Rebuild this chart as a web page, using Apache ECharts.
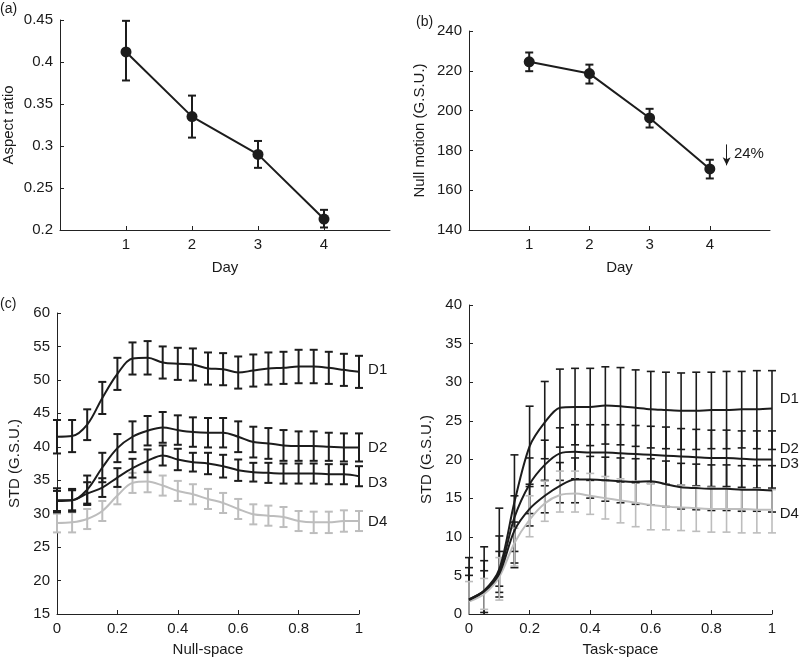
<!DOCTYPE html>
<html><head><meta charset="utf-8">
<script src="https://cdn.jsdelivr.net/npm/echarts@6/dist/echarts.min.js"></script>
<style>html,body{margin:0;padding:0;background:#fff}#c{width:800px;height:658px}</style>
</head><body><div id="c"></div>
<script>
// ---------- Panel (a) ----------
var daysA = [1, 2, 3, 4];
var aspectMean = [0.412, 0.335, 0.290, 0.213];
var aspectHi = [0.449, 0.360, 0.306, 0.224];
var aspectLo = [0.378, 0.310, 0.274, 0.203];
// ---------- Panel (b) ----------
var nullMean = [224.5, 218.6, 196.3, 170.7];
var nullHi = [229.2, 223.1, 200.9, 175.3];
var nullLo = [219.8, 213.6, 191.5, 165.9];
var arrowB = [[4.28, 183.0], [4.28, 172.5]];
var arrowText = '24%';
var arrowTextPos = [4.4, 178.3];
// ---------- Panel (c) Null-space ----------
var xs = [0, 0.05, 0.1, 0.15, 0.2, 0.25, 0.3, 0.35, 0.4, 0.45, 0.5, 0.55, 0.6, 0.65, 0.7, 0.75, 0.8, 0.85, 0.9, 0.95, 1];
var cD1 = [41.5, 41.6, 43.3, 47.3, 50.9, 53.2, 53.3, 52.6, 52.4, 52.3, 51.7, 51.6, 51.1, 51.4, 51.7, 51.8, 52.0, 52.0, 51.8, 51.5, 51.2];
var cD1err = [2.5, 2.4, 2.3, 2.4, 2.4, 2.4, 2.5, 2.4, 2.4, 2.4, 2.4, 2.4, 2.4, 2.4, 2.4, 2.4, 2.5, 2.5, 2.4, 2.4, 2.4];
var cD2 = [32.0, 32.0, 33.6, 36.9, 39.8, 41.5, 42.4, 42.9, 42.5, 42.2, 42.1, 42.1, 41.5, 40.7, 40.5, 40.2, 40.1, 40.1, 40.0, 39.9, 39.9];
var cD2err = [1.8, 1.7, 2.1, 2.2, 2.1, 2.3, 2.2, 2.3, 2.2, 2.2, 2.2, 2.2, 2.3, 2.3, 2.3, 2.3, 2.2, 2.2, 2.1, 2.1, 2.1];
var cD3 = [31.9, 32.0, 33.0, 33.9, 35.4, 36.8, 37.9, 38.7, 38.1, 37.7, 37.5, 37.1, 36.5, 36.2, 36.1, 36.0, 36.0, 36.0, 35.9, 35.9, 35.6];
var cD3err = [1.5, 1.5, 1.7, 1.4, 1.4, 1.4, 1.7, 1.5, 1.6, 1.4, 1.6, 1.7, 1.6, 1.4, 1.5, 1.5, 1.5, 1.5, 1.5, 1.5, 1.5];
var cD4 = [28.6, 28.7, 29.2, 30.4, 32.7, 34.6, 34.8, 34.2, 33.4, 32.9, 32.2, 31.6, 30.7, 29.9, 29.7, 29.5, 28.9, 28.7, 28.7, 28.9, 28.9];
var cD4err = [1.4, 1.5, 1.5, 1.5, 1.3, 1.5, 1.6, 1.5, 1.5, 1.5, 1.5, 1.5, 1.5, 1.5, 1.5, 1.5, 1.5, 1.6, 1.6, 1.6, 1.5];
var cLabels = ['D1', 'D2', 'D3', 'D4'];
var cLabelPos = [[1.03, 51.5], [1.03, 39.9], [1.03, 34.6], [1.03, 28.8]];
// ---------- Panel (d) Task-space ----------
var dD1 = [1.9, 3.0, 5.8, 14.5, 21.7, 24.8, 26.7, 26.8, 26.8, 27.0, 26.9, 26.7, 26.5, 26.4, 26.3, 26.3, 26.4, 26.4, 26.5, 26.5, 26.6];
var dD1hi = [7.3, 8.7, 13.7, 20.6, 26.9, 30.1, 31.7, 31.8, 31.8, 32.0, 31.9, 31.6, 31.4, 31.3, 31.2, 31.3, 31.3, 31.4, 31.4, 31.5, 31.5];
var dD1lo = [-3.5, -2.7, 3.6, 8.1, 16.5, 20.1, 21.6, 21.9, 21.8, 22.0, 21.9, 21.7, 21.5, 21.4, 21.3, 21.3, 21.4, 21.4, 21.5, 21.4, 21.3];
var dD2 = [1.9, 3.0, 5.5, 12.5, 16.8, 19.3, 20.8, 21.0, 20.9, 20.9, 20.8, 20.7, 20.6, 20.5, 20.4, 20.3, 20.2, 20.2, 20.1, 20.0, 20.0];
var dD2hi = [6.0, 6.9, 10.1, 15.3, 20.2, 22.5, 24.1, 24.5, 24.5, 24.5, 24.5, 24.4, 24.3, 24.2, 24.0, 23.9, 23.8, 23.8, 23.7, 23.7, 23.7];
var dD2lo = [-2.2, -0.9, 2.8, 6.6, 13.0, 16.6, 17.3, 17.5, 17.3, 17.3, 17.1, 17.0, 16.9, 16.8, 16.7, 16.6, 16.5, 16.5, 16.4, 16.3, 16.3];
var dD3 = [1.8, 2.9, 5.2, 10.8, 13.6, 15.3, 16.6, 17.4, 17.4, 17.3, 17.2, 17.1, 17.2, 16.8, 16.4, 16.3, 16.2, 16.2, 16.1, 16.1, 16.0];
var dD3hi = [5.0, 5.6, 8.1, 11.9, 16.8, 17.3, 19.6, 20.2, 20.4, 20.3, 20.2, 20.1, 20.1, 19.8, 19.5, 19.4, 19.3, 19.3, 19.2, 19.2, 19.2];
var dD3lo = [-1.2, 0.2, 2.2, 6.0, 11.4, 13.1, 14.4, 14.4, 15.0, 14.6, 14.4, 14.2, 14.1, 13.9, 13.6, 13.5, 13.4, 13.4, 13.3, 13.3, 13.2];
var dD4 = [1.6, 2.6, 4.8, 9.2, 12.2, 14.3, 15.4, 15.6, 15.3, 15.0, 14.7, 14.4, 14.1, 13.9, 13.8, 13.7, 13.6, 13.6, 13.6, 13.5, 13.5];
var dD4hi = [4.2, 4.6, 7.3, 11.1, 15.3, 17.2, 18.5, 18.5, 18.2, 17.8, 17.5, 17.2, 16.9, 16.8, 16.7, 16.5, 16.4, 16.3, 16.2, 16.2, 16.1];
var dD4lo = [-1.0, 0.6, 1.8, 6.2, 10.0, 12.0, 13.2, 13.2, 12.9, 12.3, 11.8, 11.3, 10.9, 10.9, 10.8, 10.7, 10.6, 10.6, 10.5, 10.5, 10.5];
var dLabels = ['D1', 'D2', 'D3', 'D4'];
var dLabelPos = [[1.025, 27.8], [1.025, 21.35], [1.025, 19.4], [1.025, 12.9]];

var FONT = '"Liberation Sans", Arial, Helvetica, sans-serif';
var TXT = '#1a1a1a';
var BLACK = '#1c1c1c';
var GRAY = '#bdbdbd';
var FS = 15;

function zip(x, y) { return x.map(function (v, i) { return [v, y[i]]; }); }
function errData(x, lo, hi) { return x.map(function (v, i) { return [v, lo[i], hi[i]]; }); }
function symErr(x, m, e) { return x.map(function (v, i) { return [v, m[i] - e[i], m[i] + e[i]]; }); }

function errRender(capW, color, lw) {
  return function (params, api) {
    var x = api.value(0), lo = api.value(1), hi = api.value(2);
    var p1 = api.coord([x, hi]), p2 = api.coord([x, lo]);
    var cs = params.coordSys;
    var top = cs.y, bot = cs.y + cs.height;
    function st() { return { stroke: color, lineWidth: lw, fill: null }; }
    var y1 = Math.max(top, Math.min(bot, p1[1]));
    var y2 = Math.max(top, Math.min(bot, p2[1]));
    var ch = [{ type: 'line', shape: { x1: p1[0], y1: y1, x2: p2[0], y2: y2 }, style: st() }];
    if (p1[1] >= top && p1[1] <= bot) ch.push({ type: 'line', shape: { x1: p1[0] - capW, y1: p1[1], x2: p1[0] + capW, y2: p1[1] }, style: st() });
    if (p2[1] >= top && p2[1] <= bot) ch.push({ type: 'line', shape: { x1: p2[0] - capW, y1: p2[1], x2: p2[0] + capW, y2: p2[1] }, style: st() });
    return { type: 'group', children: ch };
  };
}

function errSeries(idx, data, color, capW, lw) {
  return {
    type: 'custom', xAxisIndex: idx, yAxisIndex: idx, data: data, clip: false,
    renderItem: errRender(capW, color, lw), encode: { x: 0, y: [1, 2] }, silent: true, z: 3
  };
}
function lineSeries(idx, data, color, smooth, extra) {
  var s = {
    type: 'line', xAxisIndex: idx, yAxisIndex: idx, data: data, smooth: smooth,
    showSymbol: false, symbol: 'none', lineStyle: { color: color, width: 2 }, silent: true, z: 4
  };
  if (extra) for (var k in extra) s[k] = extra[k];
  return s;
}
function labelSeries(idx, pos, names) {
  return {
    type: 'scatter', xAxisIndex: idx, yAxisIndex: idx, symbolSize: 0.1, silent: true, z: 5, clip: false,
    itemStyle: { color: 'rgba(0,0,0,0)', opacity: 1 },
    data: pos.map(function (p, i) { return { value: p, label: { show: true, formatter: names[i] } }; }),
    label: { show: true, position: 'right', distance: 0, color: TXT, fontSize: FS, fontFamily: FONT }
  };
}

var axisCommon = {
  axisLine: { show: true, onZero: false, lineStyle: { color: '#222', width: 1 } },
  axisTick: { show: true, inside: true, length: 4, lineStyle: { color: '#222' } },
  splitLine: { show: false },
  axisLabel: { color: TXT, fontSize: FS, fontFamily: FONT, margin: 7 },
  nameTextStyle: { color: TXT, fontSize: FS, fontFamily: FONT },
  nameLocation: 'middle'
};
function ax(o) {
  var r = JSON.parse(JSON.stringify(axisCommon));
  for (var k in o) {
    if (typeof o[k] === 'object' && !Array.isArray(o[k]) && r[k]) { for (var j in o[k]) r[k][j] = o[k][j]; }
    else r[k] = o[k];
  }
  return r;
}

var option = {
  animation: false,
  backgroundColor: '#fff',
  textStyle: { fontFamily: FONT },
  grid: [
    { left: 58, top: 20, width: 332, height: 210 },
    { left: 469, top: 31, width: 301, height: 199 },
    { left: 57, top: 313, width: 302, height: 303 },
    { left: 469, top: 305, width: 303, height: 311 }
  ],
  xAxis: [
    ax({ gridIndex: 0, type: 'value', min: 0, max: 5, name: 'Day', nameGap: 30,
      axisTick: { customValues: daysA }, axisLabel: { customValues: daysA } }),
    ax({ gridIndex: 1, type: 'value', min: 0, max: 5, name: 'Day', nameGap: 30,
      axisTick: { customValues: daysA }, axisLabel: { customValues: daysA } }),
    ax({ gridIndex: 2, type: 'value', min: 0, max: 1, interval: 0.2, name: 'Null-space', nameGap: 28 }),
    ax({ gridIndex: 3, type: 'value', min: 0, max: 1, interval: 0.2, name: 'Task-space', nameGap: 28 })
  ],
  yAxis: [
    ax({ gridIndex: 0, type: 'value', min: 0.2, max: 0.45, interval: 0.05, name: 'Aspect ratio', nameGap: 44,
      axisLabel: { formatter: function (v) { return String(+v.toFixed(2)); } } }),
    ax({ gridIndex: 1, type: 'value', min: 140, max: 240, interval: 20, name: 'Null motion (G.S.U.)', nameGap: 42 }),
    ax({ gridIndex: 2, type: 'value', min: 15, max: 60, interval: 5, name: 'STD (G.S.U.)', nameGap: 35 }),
    ax({ gridIndex: 3, type: 'value', min: 0, max: 40, interval: 5, name: 'STD (G.S.U.)', nameGap: 35 })
  ],
  graphic: [
    { type: 'text', left: 0, top: 2, style: { text: '(a)', fontSize: 14, fontFamily: FONT, fill: TXT } },
    { type: 'text', left: 416, top: 15, style: { text: '(b)', fontSize: 14, fontFamily: FONT, fill: TXT } },
    { type: 'text', left: 0, top: 297, style: { text: '(c)', fontSize: 14, fontFamily: FONT, fill: TXT } }
  ],
  series: [
    // (a)
    errSeries(0, errData(daysA, aspectLo, aspectHi), BLACK, 4, 2),
    lineSeries(0, zip(daysA, aspectMean), BLACK, false, { symbol: 'circle', showSymbol: true, symbolSize: 11, itemStyle: { color: BLACK } }),
    // (b)
    errSeries(1, errData(daysA, nullLo, nullHi), BLACK, 4, 2),
    lineSeries(1, zip(daysA, nullMean), BLACK, false, { symbol: 'circle', showSymbol: true, symbolSize: 11, itemStyle: { color: BLACK },
      markLine: { silent: true, symbol: ['none', 'arrow'], symbolSize: [6, 8], label: { show: false },
        lineStyle: { color: BLACK, width: 1, type: 'solid' },
        data: [[{ coord: arrowB[0] }, { coord: arrowB[1] }]] } }),
    labelSeries(1, [arrowTextPos], [arrowText]),
    // (c)
    errSeries(2, symErr(xs, cD4, cD4err), GRAY, 4, 2),
    lineSeries(2, zip(xs, cD4), GRAY, 0.35),
    errSeries(2, symErr(xs, cD1, cD1err), BLACK, 4, 2),
    errSeries(2, symErr(xs, cD2, cD2err), BLACK, 4, 2),
    errSeries(2, symErr(xs, cD3, cD3err), BLACK, 4, 2),
    lineSeries(2, zip(xs, cD1), BLACK, 0.35),
    lineSeries(2, zip(xs, cD2), BLACK, 0.35),
    lineSeries(2, zip(xs, cD3), BLACK, 0.35),
    labelSeries(2, cLabelPos, cLabels),
    // (d)
    errSeries(3, errData(xs, dD1lo, dD1hi), BLACK, 4, 1.6),
    errSeries(3, errData(xs, dD2lo, dD2hi), BLACK, 4, 1.6),
    errSeries(3, errData(xs, dD3lo, dD3hi), BLACK, 4, 1.6),
    errSeries(3, errData(xs, dD4lo, dD4hi), GRAY, 4, 1.6),
    lineSeries(3, zip(xs, dD4), GRAY, 0.3),
    lineSeries(3, zip(xs, dD1), BLACK, 0.3),
    lineSeries(3, zip(xs, dD2), BLACK, 0.3),
    lineSeries(3, zip(xs, dD3), BLACK, 0.3),
    labelSeries(3, dLabelPos, dLabels)
  ]
};
var chart = echarts.init(document.getElementById('c'), null, { renderer: 'canvas' });
chart.setOption(option);
</script>
</body></html>
